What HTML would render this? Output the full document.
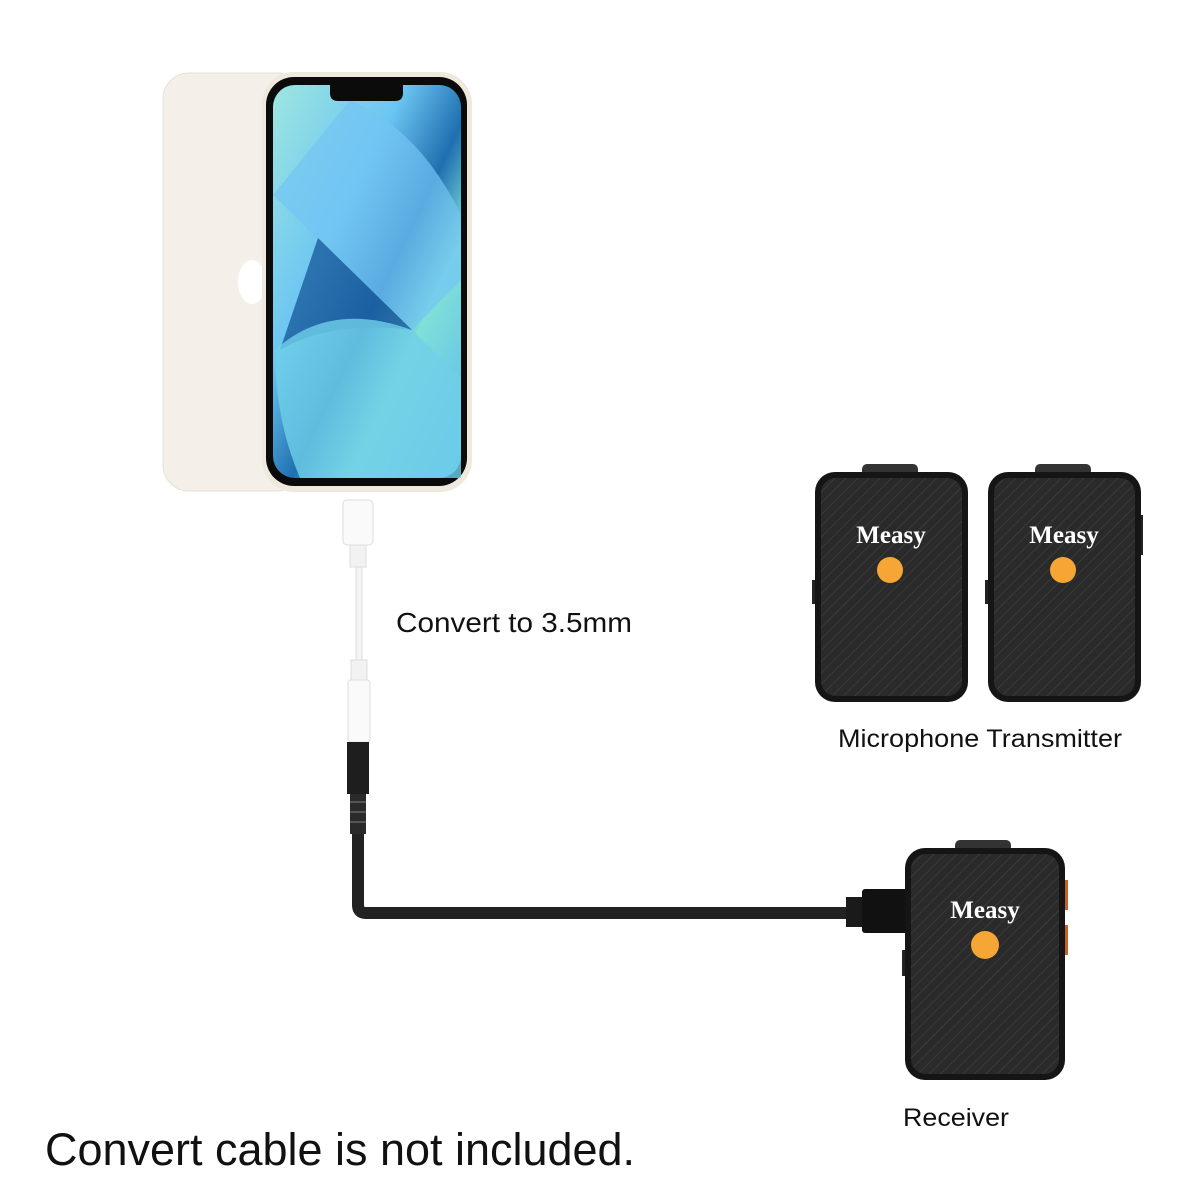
<!DOCTYPE html>
<html><head><style>
html,body{margin:0;padding:0;background:#fff;width:1200px;height:1200px;overflow:hidden}
svg{display:block}
text{font-family:"Liberation Sans",sans-serif;fill:#111}
.logo{font-family:"Liberation Serif",serif;font-weight:bold;fill:#fff;font-size:25px}
</style></head><body>
<svg width="1200" height="1200" viewBox="0 0 1200 1200" xmlns="http://www.w3.org/2000/svg">
<defs>
<linearGradient id="scr" x1="0" y1="0" x2="1" y2="1">
<stop offset="0" stop-color="#9fe6e0"/><stop offset="0.35" stop-color="#6cc6f2"/>
<stop offset="0.55" stop-color="#1f6fb0"/><stop offset="0.7" stop-color="#7fe0d8"/><stop offset="1" stop-color="#5cb6ee"/>
</linearGradient>
<pattern id="tex" width="8" height="8" patternUnits="userSpaceOnUse" patternTransform="rotate(45)">
<rect width="8" height="8" fill="#2a2a2a"/><line x1="0" y1="0" x2="0" y2="8" stroke="#3a3a3a" stroke-width="2"/>
</pattern>
</defs>
<rect x="163" y="73" width="140" height="418" rx="26" fill="#f4f0e9" stroke="#e6e0d6"/>
<ellipse cx="252" cy="282" rx="14" ry="22" fill="#fff"/>
<rect x="262" y="72" width="210" height="420" rx="32" fill="#efe8dc"/>
<rect x="266" y="77" width="201" height="409" rx="28" fill="#0b0b0b"/>
<rect x="273" y="85" width="188" height="393" rx="22" fill="url(#scr)"/>
<path d="M273 195 L412 330 L461 280 L461 215 Q420 130 350 100 Z" fill="#74c4f3" opacity="0.7"/>
<path d="M318 238 L412 330 L412 330 Q330 320 280 350 Z" fill="#1a5c9e" opacity="0.8"/>
<path d="M275 350 Q330 300 412 330 L461 378 L461 478 L300 478 Q275 420 275 350Z" fill="#6fd0e8" opacity="0.8"/>
<path d="M330 85 h73 v8 q0 8 -8 8 h-57 q-8 0 -8 -8z" fill="#0b0b0b"/>
<rect x="343" y="500" width="30" height="45" rx="4" fill="#fafafa" stroke="#ddd"/>
<rect x="350" y="545" width="16" height="22" fill="#f2f2f2" stroke="#ddd"/>
<rect x="356" y="567" width="6" height="100" fill="#f4f4f4" stroke="#ddd"/>
<rect x="351" y="660" width="16" height="22" fill="#f2f2f2" stroke="#ddd"/>
<rect x="348" y="680" width="22" height="62" rx="3" fill="#fafafa" stroke="#ddd"/>
<rect x="347" y="742" width="22" height="52" fill="#1e1e1e"/>
<rect x="350" y="794" width="16" height="40" fill="#2a2a2a"/>
<g stroke="#555" stroke-width="2"><line x1="350" y1="802" x2="366" y2="802"/><line x1="350" y1="812" x2="366" y2="812"/><line x1="350" y1="822" x2="366" y2="822"/></g>
<path d="M358 834 V905 Q358 913 366 913 H848" fill="none" stroke="#222" stroke-width="12"/>
<rect x="846" y="897" width="20" height="30" fill="#1a1a1a"/>
<rect x="862" y="889" width="46" height="44" rx="3" fill="#111"/>
<g>
<rect x="862" y="464" width="56" height="14" rx="5" fill="#333"/>
<rect x="812" y="580" width="6" height="24" fill="#222"/>
<rect x="815" y="472" width="153" height="230" rx="20" fill="#151515"/>
<rect x="821" y="478" width="141" height="218" rx="15" fill="url(#tex)"/>
<text x="891" y="543" class="logo" text-anchor="middle">Measy</text>
<circle cx="890" cy="570" r="13" fill="#f5a634"/>
</g>
<g>
<rect x="1035" y="464" width="56" height="14" rx="5" fill="#333"/>
<rect x="1138" y="515" width="5" height="40" fill="#222"/>
<rect x="985" y="580" width="6" height="24" fill="#222"/>
<rect x="988" y="472" width="153" height="230" rx="20" fill="#151515"/>
<rect x="994" y="478" width="141" height="218" rx="15" fill="url(#tex)"/>
<text x="1064" y="543" class="logo" text-anchor="middle">Measy</text>
<circle cx="1063" cy="570" r="13" fill="#f5a634"/>
</g>
<g>
<rect x="955" y="840" width="56" height="14" rx="5" fill="#333"/>
<rect x="1062" y="880" width="6" height="30" fill="#c0622a"/>
<rect x="1062" y="925" width="6" height="30" fill="#c0622a"/>
<rect x="902" y="950" width="6" height="26" fill="#222"/>
<rect x="905" y="848" width="160" height="232" rx="20" fill="#151515"/>
<rect x="911" y="854" width="148" height="220" rx="15" fill="url(#tex)"/>
<text x="985" y="918" class="logo" text-anchor="middle">Measy</text>
<circle cx="985" cy="945" r="14" fill="#f5a634"/>
</g>
<text x="396" y="632" font-size="28" textLength="236" lengthAdjust="spacingAndGlyphs">Convert to 3.5mm</text>
<text x="838" y="747" font-size="25" textLength="284" lengthAdjust="spacingAndGlyphs">Microphone Transmitter</text>
<text x="903" y="1126" font-size="25" textLength="106" lengthAdjust="spacingAndGlyphs">Receiver</text>
<text x="45" y="1165" font-size="45" textLength="590" lengthAdjust="spacingAndGlyphs">Convert cable is not included.</text>
</svg>
</body></html>
